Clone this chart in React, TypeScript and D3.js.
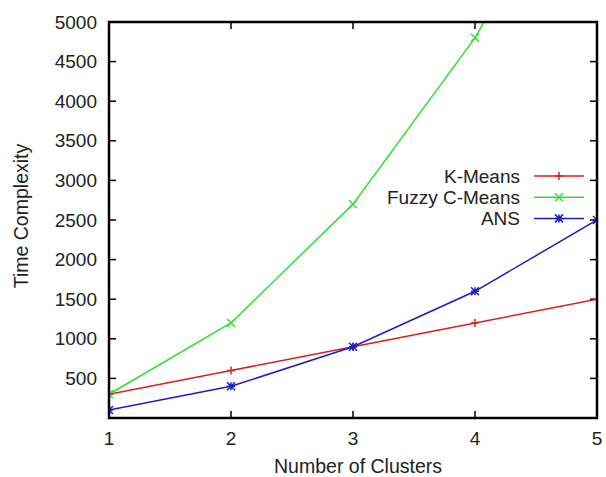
import React from "react";
import * as d3 from "d3";

const clusters = [1, 2, 3, 4, 5];
const kMeans = [300, 600, 900, 1200, 1500];
const fuzzyCMeans = [300, 1200, 2700, 4800, 7500];
const ans = [100, 400, 900, 1600, 2500];
const yTicks = [500, 1000, 1500, 2000, 2500, 3000, 3500, 4000, 4500, 5000];
const seriesNames = ["K-Means", "Fuzzy C-Means", "ANS"];
const seriesColors = ["#d82020", "#30e030", "#1c1cc8"];
const seriesMarkers = ["plus", "cross", "star"];

const W = 606, H = 477;
const L = 109, R = 597, T = 22, B = 418;
const FONT = "'Liberation Sans', Arial, sans-serif";

export default function App() {
  const x = d3.scaleLinear().domain([1, 5]).range([L, R]);
  const y = d3.scaleLinear().domain([0, 5000]).range([B, T]);
  const data = [kMeans, fuzzyCMeans, ans];
  const line = d3.line<number>().x((_, i) => x(clusters[i])).y((d) => y(d));

  const marker = (type: string, cx: number, cy: number, color: string, key: string) => {
    const s = 4;
    const plus = `M${cx - s},${cy}H${cx + s}M${cx},${cy - s}V${cy + s}`;
    const cross = `M${cx - s},${cy - s}L${cx + s},${cy + s}M${cx - s},${cy + s}L${cx + s},${cy - s}`;
    const dPath = type === "plus" ? plus : type === "cross" ? cross : plus + cross;
    return <path key={key} d={dPath} stroke={color} strokeWidth={1.5} fill="none" />;
  };

  return (
    <svg width={W} height={H} style={{ position: "absolute", left: 0, top: 0, background: "#fff" }}>
      <defs>
        <clipPath id="plotclip">
          <rect x={L} y={T} width={R - L} height={B - T} />
        </clipPath>
      </defs>
      <rect width={W} height={H} fill="#fff" />
      {yTicks.map((t) => (
        <g key={"yt" + t}>
          <line x1={L} x2={L + 7} y1={y(t)} y2={y(t)} stroke="#000" strokeWidth={1.5} />
          <line x1={R} x2={R - 7} y1={y(t)} y2={y(t)} stroke="#000" strokeWidth={1.5} />
          <text x={L - 12} y={y(t)} dy="0.35em" textAnchor="end" fontFamily={FONT} fontSize={19} fill="#222">{t}</text>
        </g>
      ))}
      {clusters.map((c) => (
        <g key={"xt" + c}>
          <line x1={x(c)} x2={x(c)} y1={B} y2={B - 7} stroke="#000" strokeWidth={1.5} />
          <line x1={x(c)} x2={x(c)} y1={T} y2={T + 7} stroke="#000" strokeWidth={1.5} />
          <text x={x(c)} y={445} textAnchor="middle" fontFamily={FONT} fontSize={19} fill="#222">{c}</text>
        </g>
      ))}
      <g clipPath="url(#plotclip)">
        {data.map((vals, si) => (
          <g key={"s" + si}>
            <path d={line(vals) || ""} fill="none" stroke={seriesColors[si]} strokeWidth={1.5} />
            {vals.map((v, i) => marker(seriesMarkers[si], x(clusters[i]), y(v), seriesColors[si], `m${si}-${i}`))}
          </g>
        ))}
      </g>
      {seriesNames.map((n, i) => {
        const ly = 176 + i * 21.2;
        return (
          <g key={"lg" + i}>
            <text x={520} y={ly} dy="0.35em" textAnchor="end" fontFamily={FONT} fontSize={19} fill="#222">{n}</text>
            <line x1={534} x2={584} y1={ly} y2={ly} stroke={seriesColors[i]} strokeWidth={1.5} />
            {marker(seriesMarkers[i], 559, ly, seriesColors[i], "lm" + i)}
          </g>
        );
      })}
      <rect x={L} y={T} width={R - L} height={B - T} fill="none" stroke="#000" strokeWidth={2.5} />
      <text x={358} y={473} textAnchor="middle" fontFamily={FONT} fontSize={19.5} fill="#222">Number of Clusters</text>
      <text transform={`translate(28,216) rotate(-90)`} textAnchor="middle" fontFamily={FONT} fontSize={19.5} fill="#222">Time Complexity</text>
    </svg>
  );
}
